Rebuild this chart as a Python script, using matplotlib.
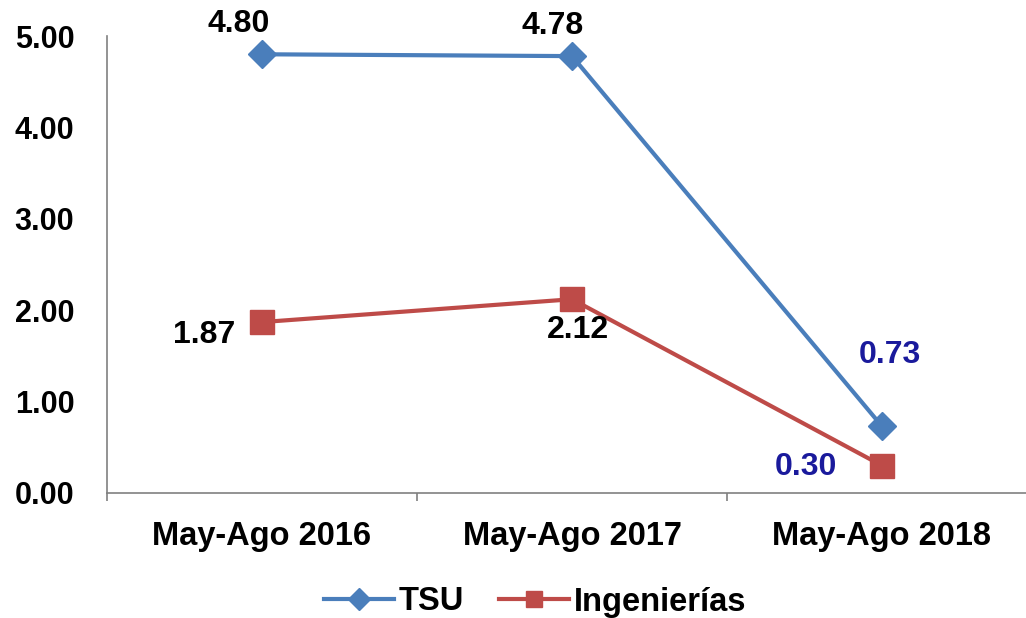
import matplotlib
matplotlib.use("Agg")
import matplotlib.pyplot as plt

categories = ["May-Ago 2016", "May-Ago 2017", "May-Ago 2018"]
tsu = [4.80, 4.78, 0.73]
ing = [1.87, 2.12, 0.30]
yticks = [0, 1, 2, 3, 4, 5]

plt.rcParams['font.family'] = ['Liberation Sans', 'DejaVu Sans']
plt.rcParams['font.weight'] = 'bold'

BLUE = '#4A7EBB'
RED = '#BE4B48'
NAVY = '#1A1A9C'

fig = plt.figure(figsize=(10.26, 6.18), dpi=100)
ax = fig.add_axes([107/1026, 1 - 493/618, (1037-107)/1026, (493-36)/618])

x = list(range(len(categories)))
ax.plot(x, tsu, color=BLUE, lw=3, marker='D', ms=14, mec=BLUE, mfc=BLUE, label='TSU', zorder=3)
ax.plot(x, ing, color=RED, lw=3, marker='s', ms=17, mec=RED, mfc=RED, label='Ingenierías', zorder=3)

ax.set_xlim(-0.5, 2.5)
ax.set_ylim(0, 5)
ax.set_yticks(yticks)
ax.set_yticklabels([f"{v:.2f}" for v in yticks], fontsize=22, fontweight='bold')
ax.set_xticks(x)
ax.set_xticklabels(categories, fontsize=23.5, fontweight='bold')
ax.set_xticks([-0.5, 0.5, 1.5, 2.5], minor=True)
ax.tick_params(axis='x', which='major', length=0, pad=20)
ax.tick_params(axis='x', which='minor', length=6, color='#808080', direction='out', width=1.2)
ax.tick_params(axis='y', length=0, pad=23.5)

for s in ['top', 'right']:
    ax.spines[s].set_visible(False)
for s in ['left', 'bottom']:
    ax.spines[s].set_color('#808080')
    ax.spines[s].set_linewidth(1.2)

fs = 23
# data labels (offsets in points)
offsets_tsu = [(-17, 22), (-14, 22), (6, 51)]
offsets_ing = [(-42, -9), (4, -22), (-55, -1)]
colors_tsu = ['black', 'black', NAVY]
colors_ing = ['black', 'black', NAVY]
for i in x:
    ax.annotate(f"{tsu[i]:.2f}", (i, tsu[i]), xytext=offsets_tsu[i], textcoords='offset points',
                ha='center', va='center', fontsize=fs, fontweight='bold', color=colors_tsu[i])
    ax.annotate(f"{ing[i]:.2f}", (i, ing[i]), xytext=offsets_ing[i], textcoords='offset points',
                ha='center', va='center', fontsize=fs, fontweight='bold', color=colors_ing[i])

leg = fig.legend(loc='center', bbox_to_anchor=(535/1026, 1 - 602/618), ncol=2, frameon=False,
                 handlelength=2.15, columnspacing=1.05, handletextpad=0.15,
                 prop={'weight': 'bold', 'size': 23.5})
for h in leg.legend_handles:
    h.set_markersize(11)

fig.savefig("out.png", dpi=100)
